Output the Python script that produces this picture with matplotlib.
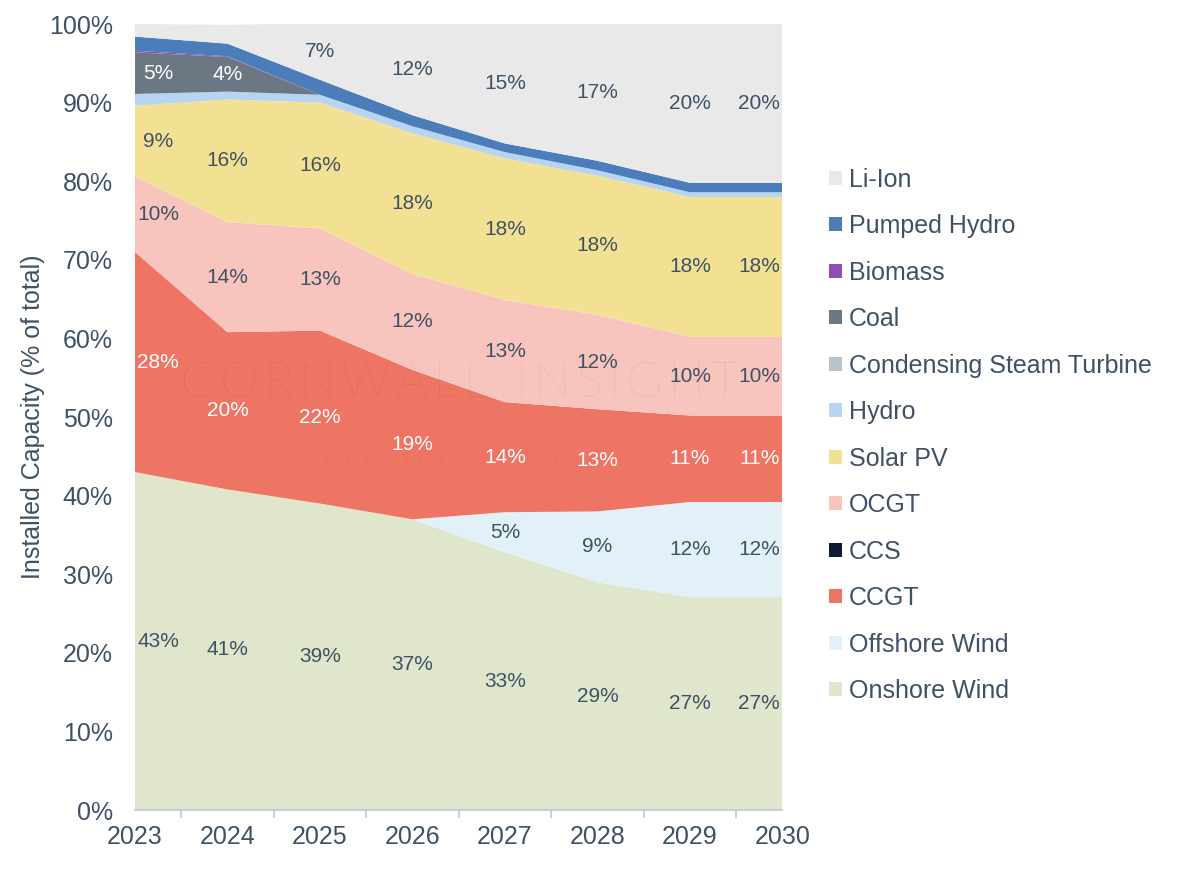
import numpy as np
import matplotlib.pyplot as plt
from matplotlib.patches import Patch

plt.rcParams['font.family'] = ['Liberation Sans', 'DejaVu Sans']

years = [2023, 2024, 2025, 2026, 2027, 2028, 2029, 2030]

# share of installed capacity, %, stacked bottom -> top
onshore_wind = [43, 40.8, 39, 37, 32.8, 29, 27.1, 27.1]
offshore_wind = [0, 0, 0, 0, 5.1, 9, 12.1, 12.1]
ccgt = [28, 20, 22, 19, 14, 13, 11, 11]
ccs = [0, 0, 0, 0, 0, 0, 0, 0]
ocgt = [9.6, 14, 13, 12.2, 13, 12, 10, 10]
solar_pv = [9, 15.6, 16, 17.9, 18, 17.7, 17.8, 17.8]
hydro = [1.5, 1.0, 1.0, 0.9, 0.8, 0.7, 0.6, 0.6]
steam_turbine = [0, 0, 0, 0, 0, 0, 0, 0]
coal = [5.3, 4.4, 0, 0, 0, 0, 0, 0]
biomass = [0.2, 0.1, 0, 0, 0, 0, 0, 0]
pumped_hydro = [1.8, 1.6, 1.9, 1.4, 1.1, 1.2, 1.2, 1.2]
li_ion = [1.6, 2.4, 7.2, 11.6, 15.2, 17.4, 20.2, 20.2]

names = ["Onshore Wind", "Offshore Wind", "CCGT", "CCS", "OCGT", "Solar PV",
         "Hydro", "Condensing Steam Turbine", "Coal", "Biomass",
         "Pumped Hydro", "Li-Ion"]
series = [onshore_wind, offshore_wind, ccgt, ccs, ocgt, solar_pv, hydro,
          steam_turbine, coal, biomass, pumped_hydro, li_ion]
colors = ["#dfe6cc", "#e2f1f7", "#ee7464", "#0e1a33", "#f8c5be", "#f3e193",
          "#b7d4f1", "#b9c4cc", "#6b7883", "#8e4fb5", "#4a7dba", "#e9e9e9"]

labelled = ["Onshore Wind", "Offshore Wind", "CCGT", "OCGT", "Solar PV", "Coal", "Li-Ion"]
white_text = ["CCGT", "Coal"]

txt = "#3e5166"

fig = plt.figure(figsize=(12, 8.73), dpi=100)
ax = fig.add_axes([0.1125, 0.072, 0.5395, 0.9005])

ax.stackplot(years, *series, colors=colors, linewidth=0)

# data labels
base = np.zeros(len(years))
for name, vals in zip(names, series):
    vals = np.array(vals, dtype=float)
    if name in labelled:
        for i, v in enumerate(vals):
            if v < 3:
                continue
            x = years[i]
            if i == 0:
                x += 0.25
            elif i == len(years) - 1:
                x -= 0.25
            top = min(base[i] + v, 100)
            y = (base[i] + top) / 2
            c = "white" if name in white_text else txt
            ax.text(x, y, f"{round(v)}%", ha="center", va="center",
                    fontsize=15, color=c)
    base += vals

# watermark
hs = "\u2009"
fig.text(0.383, 0.561, hs.join("CORNWALL") + "  " + hs.join("INSIGHT"),
         ha="center", va="center", fontsize=35, color="#000000", alpha=0.09,
         family="Lato", fontweight="light")
fig.text(0.383, 0.470, hs.join("CREATING") + "  " + hs.join("CLARITY"),
         ha="center", va="center", fontsize=18, color="#000000", alpha=0.09,
         family="Lato", fontweight="light")

ax.set_xlim(2023, 2030)
ax.set_ylim(0, 100)
ax.set_yticks(range(0, 101, 10))
ax.set_yticklabels([f"{v}%" for v in range(0, 101, 10)])
ax.set_xticks(years)
ax.set_xticks([2023] + [y + 0.5 for y in years[:-1]] + [2030], minor=True)
ax.tick_params(axis="both", which="major", length=0, labelsize=18, colors=txt)
ax.tick_params(axis="y", which="major", pad=16)
ax.tick_params(axis="x", which="major", pad=11)
ax.tick_params(axis="x", which="minor", length=6, color="#bfc9d4", width=1.2)
ax.set_ylabel("Installed Capacity (% of total)", fontsize=18, color=txt, labelpad=3)

for s in ["top", "right", "left"]:
    ax.spines[s].set_visible(False)
ax.spines["bottom"].set_color("#bfc9d4")
ax.spines["bottom"].set_linewidth(1.2)

handles = [Patch(facecolor=c, edgecolor="none") for c in colors[::-1]]
fig.legend(handles, names[::-1], loc="upper left", bbox_to_anchor=(0.691, 0.808),
           frameon=False, fontsize=18, labelcolor=txt, handlelength=0.5,
           handleheight=0.5, handletextpad=0.3, labelspacing=0.9,
           borderaxespad=0, borderpad=0)

fig.savefig("out.png", dpi=100)
